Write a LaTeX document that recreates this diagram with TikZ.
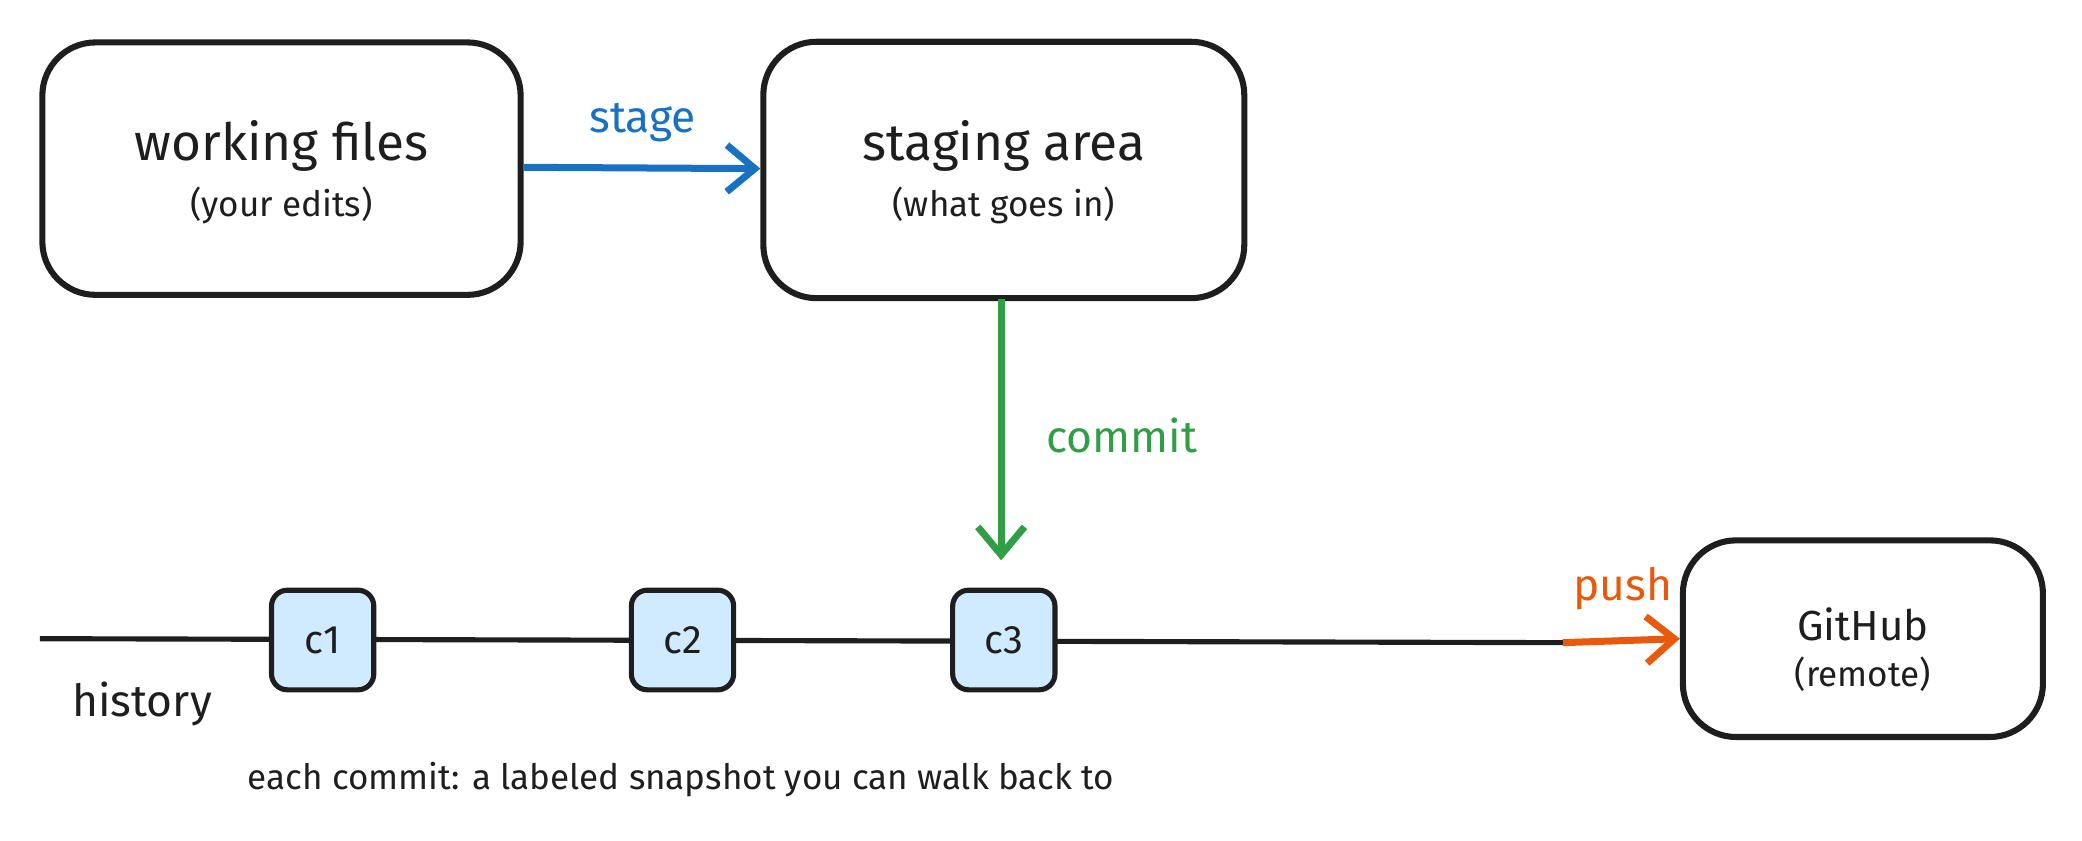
\documentclass[tikz,border=0pt]{standalone}
\usepackage{fontspec}
\setmainfont{Fira Sans}
\usetikzlibrary{arrows.meta}
\definecolor{cblue}{HTML}{1971C2}
\definecolor{cgreen}{HTML}{2F9E44}
\definecolor{corange}{HTML}{E8590C}
\definecolor{cfill}{HTML}{D0EBFF}
\definecolor{ink}{HTML}{1E1E1E}
\begin{document}
\begin{tikzpicture}[x=0.01cm,y=-0.01cm,
  box/.style={draw=ink,line width=1.3pt,rounded corners=0.4cm,inner sep=0pt},
  cbox/.style={draw=ink,line width=1.1pt,fill=cfill,rounded corners=0.12cm,minimum width=0.77cm,minimum height=0.75cm,font=\fontsize{8.5}{10}\selectfont,text=ink},
  title/.style={font=\fontsize{11}{13}\selectfont,text=ink},
  sub/.style={font=\fontsize{7.5}{9}\selectfont,text=ink},
  lab/.style={font=\fontsize{9.5}{11}\selectfont},
  arr/.style={line width=1.5pt,-{Straight Barb[length=6pt,width=10pt,line width=1.5pt]}}]
\useasboundingbox (0,0) rectangle (1568,633);
\node[box,minimum width=3.6cm,minimum height=1.9cm] (wf) at (212,127) {};
\node[title] (wft) at (212,110) {working files};
\node[sub] (wfs) at (212,155) {(your edits)};
\node[box,minimum width=3.62cm,minimum height=1.93cm] (sa) at (756,128) {};
\node[title] (sat) at (756,110) {staging area};
\node[sub] (sas) at (756,155) {(what goes in)};
\node[box,minimum width=2.71cm,minimum height=1.48cm] (gh) at (1403,481) {};
\node[font=\fontsize{9}{11}\selectfont,text=ink] (ght) at (1403,470) {GitHub};
\node[sub] (ghs) at (1403,508) {(remote)};
\coordinate (h0) at (30,481);
\coordinate (h1) at (1177,484);
\draw[ink,line width=1.1pt] (h0) -- (h1);
\node[cbox] (c1) at (243,482) {c1};
\node[cbox] (c2) at (514,482) {c2};
\node[cbox] (c3) at (756,482) {c3};
\draw[arr,cblue] (wf.east |- 0,126) -- (sa.west |- 0,127);
\node[lab,text=cblue] (ls) at (484,92) {stage};
\coordinate (ct) at (754,422);
\draw[arr,cgreen] (754,225) -- (ct);
\node[lab,text=cgreen] (lc) at (845,328) {commit};
\draw[arr,corange] (h1) -- (gh.west |- 0,481);
\node[lab,text=corange] (lp) at (1222,443) {push};
\node[lab,text=ink] (lh) at (107,530) {history};
\node[sub] (cap) at (513,587) {each commit: a labeled snapshot you can walk back to};
\end{tikzpicture}
\end{document}
